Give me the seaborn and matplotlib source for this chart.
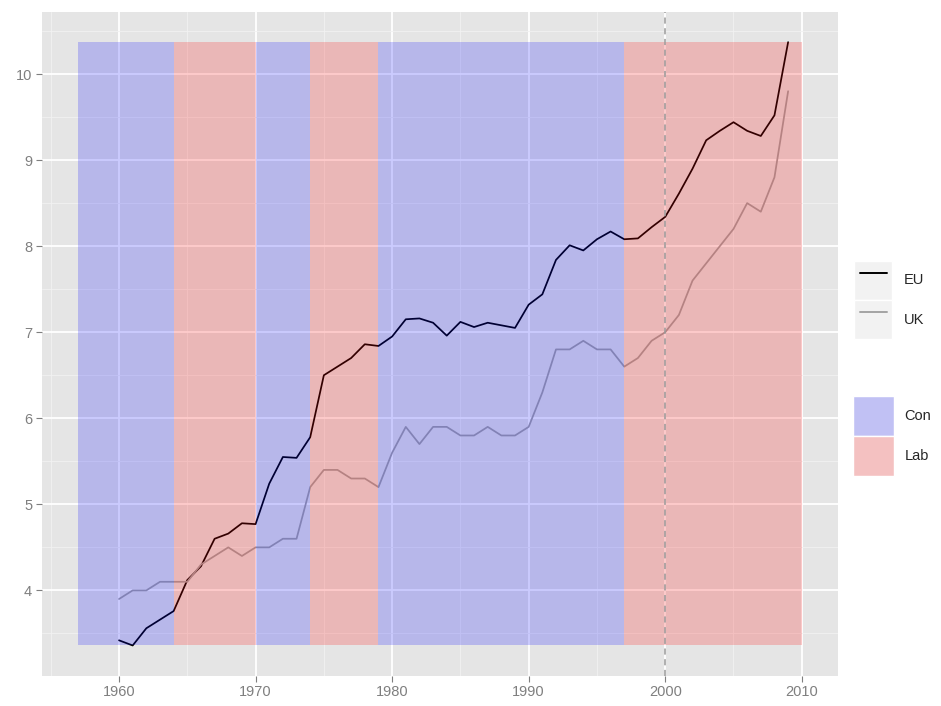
import numpy as np
import pandas as pd
import seaborn as sns
import matplotlib
matplotlib.use('Agg')
import matplotlib.pyplot as plt
from matplotlib.lines import Line2D
from matplotlib.patches import Patch, Rectangle
from matplotlib.legend_handler import HandlerLine2D, HandlerPatch
from matplotlib.ticker import MultipleLocator

# data
years = list(range(1960, 2010))
eu = [3.42, 3.36, 3.56, 3.66, 3.76, 4.12, 4.28, 4.60, 4.66, 4.78,
      4.77, 5.24, 5.55, 5.54, 5.78, 6.50, 6.60, 6.70, 6.86, 6.84,
      6.95, 7.15, 7.16, 7.11, 6.96, 7.12, 7.06, 7.11, 7.08, 7.05,
      7.32, 7.44, 7.84, 8.01, 7.95, 8.08, 8.17, 8.08, 8.09, 8.22,
      8.34, 8.61, 8.90, 9.23, 9.34, 9.44, 9.34, 9.28, 9.52, 10.37]
uk = [3.9, 4.0, 4.0, 4.1, 4.1, 4.1, 4.3, 4.4, 4.5, 4.4,
      4.5, 4.5, 4.6, 4.6, 5.2, 5.4, 5.4, 5.3, 5.3, 5.2,
      5.6, 5.9, 5.7, 5.9, 5.9, 5.8, 5.8, 5.9, 5.8, 5.8,
      5.9, 6.3, 6.8, 6.8, 6.9, 6.8, 6.8, 6.6, 6.7, 6.9,
      7.0, 7.2, 7.6, 7.8, 8.0, 8.2, 8.5, 8.4, 8.8, 9.8]

period_start = [1957, 1964, 1970, 1974, 1979, 1997]
period_end = [1964, 1970, 1974, 1979, 1997, 2010]
party = ['Con', 'Lab', 'Con', 'Lab', 'Con', 'Lab']
marker_year = 2000

df = pd.DataFrame({'year': years * 2,
                   'value': eu + uk,
                   'series': ['EU'] * len(eu) + ['UK'] * len(uk)})

sns.set_theme(style='darkgrid', rc={
    'axes.facecolor': '#E5E5E5',
    'grid.color': 'white',
    'axes.edgecolor': '#E5E5E5',
})
plt.rcParams['font.family'] = ['Liberation Sans', 'DejaVu Sans']

line_pal = {'EU': 'black', 'UK': '#A3A3A3'}
fill_pal = {'Con': 'blue', 'Lab': 'red'}

fig = plt.figure(figsize=(9.41, 7.06), dpi=100)
ax = fig.add_axes([0.0445, 0.043, 0.846, 0.94])

sns.lineplot(data=df, x='year', y='value', hue='series', palette=line_pal,
             linewidth=1.25, ax=ax, legend=False, zorder=2)

ymin, ymax = min(eu + uk), max(eu + uk)
widths = [e - s for s, e in zip(period_start, period_end)]
ax.bar(period_start, [ymax - ymin] * len(widths), width=widths, bottom=ymin,
       align='edge', color=[fill_pal[p] for p in party], alpha=0.2,
       linewidth=0, zorder=3)

ax.axvline(marker_year, color='#999999', linestyle=(0, (4, 3)), linewidth=1.1, zorder=4)

# ggplot-like 5% expansion
xr = period_end[-1] - period_start[0]
ax.set_xlim(period_start[0] - 0.05 * xr, period_end[-1] + 0.05 * xr)
yr = ymax - ymin
ax.set_ylim(ymin - 0.05 * yr, ymax + 0.05 * yr)

ax.xaxis.set_major_locator(MultipleLocator(10))
ax.xaxis.set_minor_locator(MultipleLocator(5))
ax.yaxis.set_major_locator(MultipleLocator(1))
ax.yaxis.set_minor_locator(MultipleLocator(0.5))
ax.grid(which='major', color='white', linewidth=1.3)
ax.grid(which='minor', color='#F2F2F2', linewidth=0.6)
ax.set_axisbelow(True)
ax.set_xlabel('')
ax.set_ylabel('')
for s in ax.spines.values():
    s.set_visible(False)
ax.tick_params(which='major', length=4, width=0.8, color='#7F7F7F',
               labelcolor='#7F7F7F', labelsize=10.5, pad=3, bottom=True, left=True)
ax.tick_params(which='minor', length=0)


class KeyLine(HandlerLine2D):
    def create_artists(self, legend, orig_handle, xdescent, ydescent,
                       width, height, fontsize, trans):
        bg = Rectangle((-xdescent, -ydescent), width, height,
                       facecolor='#F2F2F2', edgecolor='white', linewidth=1,
                       transform=trans)
        arts = super().create_artists(legend, orig_handle, xdescent - 4, ydescent,
                                      width - 8, height, fontsize, trans)
        return [bg] + list(arts)


class KeyPatch(HandlerPatch):
    def create_artists(self, legend, orig_handle, xdescent, ydescent,
                       width, height, fontsize, trans):
        bg = Rectangle((-xdescent, -ydescent), width, height,
                       facecolor='#F2F2F2', edgecolor='none', transform=trans)
        fg = Rectangle((-xdescent, -ydescent), width, height,
                       facecolor=orig_handle.get_facecolor(), edgecolor='white',
                       linewidth=1, transform=trans)
        return [bg, fg]


line_handles = [Line2D([], [], color=line_pal[k], linewidth=1.4) for k in line_pal]
leg1 = fig.legend(line_handles, list(line_pal), loc='center left',
                  bbox_to_anchor=(0.908, 0.575), frameon=False, fontsize=10.5,
                  handlelength=2.6, handleheight=3.75, labelspacing=0.0,
                  handletextpad=0.8, borderpad=0, borderaxespad=0,
                  handler_map={Line2D: KeyLine()})
fill_handles = [Patch(facecolor=fill_pal[k], alpha=0.2) for k in fill_pal]
leg2 = fig.legend(fill_handles, list(fill_pal), loc='center left',
                  bbox_to_anchor=(0.907, 0.382), frameon=False, fontsize=10.5,
                  handlelength=2.8, handleheight=3.85, labelspacing=0.0,
                  handletextpad=0.7, borderpad=0, borderaxespad=0,
                  handler_map={Patch: KeyPatch()})

fig.savefig('out.png', dpi=100)
